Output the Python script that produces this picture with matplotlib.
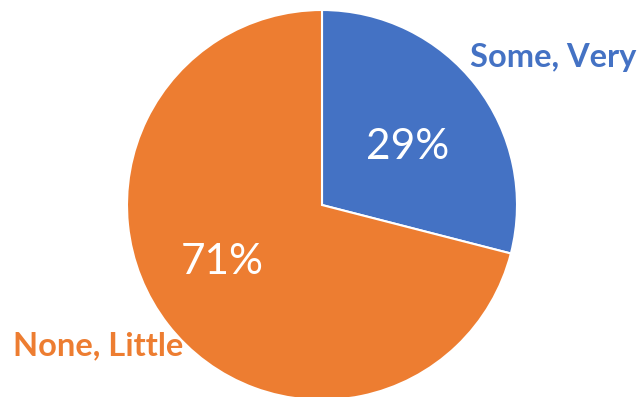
import matplotlib
matplotlib.use("Agg")
import matplotlib.pyplot as plt

categories = ["Some, Very", "None, Little"]
values = [29, 71]
pct_labels = ["29%", "71%"]
colors = ["#4472C4", "#ED7D31"]

plt.rcParams['font.family'] = ['Lato', 'DejaVu Sans']

fig = plt.figure(figsize=(6.41, 3.97), dpi=100)
ax = fig.add_axes([0, 0, 1, 1])
ax.pie(values, startangle=90, counterclock=False, colors=colors,
       center=(322, 192), radius=195, frame=True,
       wedgeprops=dict(linewidth=1.5, edgecolor="white"))
ax.set_xlim(0, 641)
ax.set_ylim(0, 397)
ax.axis("off")

ax.text(408, 397 - 147, pct_labels[0], color="white", fontsize=30.5, ha="center", va="center")
ax.text(222, 397 - 262, pct_labels[1], color="white", fontsize=30.5, ha="center", va="center")
ax.text(553, 397 - 57, categories[0], color=colors[0], fontsize=23.5, fontweight="bold", ha="center", va="center")
ax.text(98, 397 - 346, categories[1], color=colors[1], fontsize=23.5, fontweight="bold", ha="center", va="center")

fig.savefig("out.png", dpi=100)
